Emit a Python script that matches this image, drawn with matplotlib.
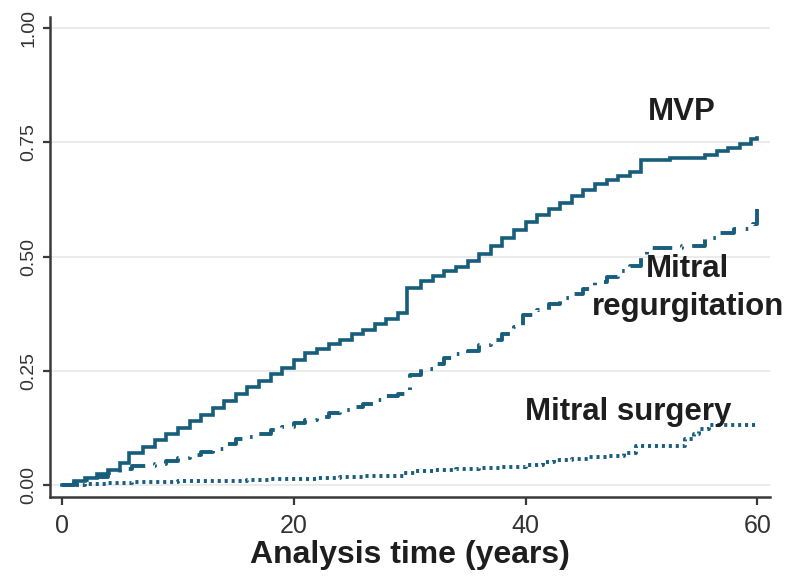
import matplotlib
matplotlib.use("Agg")
import matplotlib.pyplot as plt

# Cumulative incidence step curves (time in years, cumulative proportion)
mvp_time = [0, 1, 2, 3, 4, 5, 5.8, 7, 8, 9, 10, 11, 12, 13, 14, 15, 16, 17, 18,
            19, 20, 21, 22, 23, 24, 25, 26, 27, 28, 29, 29.8, 31, 32, 33, 34,
            35, 36, 37, 38, 39, 40, 41, 42, 43, 44, 45, 46, 47, 48, 49, 50,
            52.5, 55.5, 56.5, 57.5, 58.5, 59.5, 60]
mvp_value = [0.000, 0.008, 0.016, 0.025, 0.034, 0.048, 0.070, 0.084, 0.098,
             0.112, 0.126, 0.140, 0.154, 0.168, 0.184, 0.200, 0.214, 0.228,
             0.242, 0.256, 0.274, 0.288, 0.298, 0.308, 0.318, 0.330, 0.340,
             0.352, 0.364, 0.376, 0.432, 0.446, 0.458, 0.468, 0.478, 0.490,
             0.506, 0.522, 0.540, 0.558, 0.576, 0.590, 0.604, 0.618, 0.632,
             0.646, 0.658, 0.668, 0.676, 0.684, 0.712, 0.716, 0.722, 0.730,
             0.738, 0.746, 0.756, 0.760]

mr_time = [0, 1, 2, 3, 4, 5, 6, 8, 9, 10, 11, 12, 13, 14, 15, 16, 17, 18, 19,
           20, 21, 22, 23, 24, 25, 26, 27, 28, 29, 30, 31, 32, 33, 34, 35, 36,
           37, 38, 39, 39.8, 41, 42, 43, 44, 45, 46, 47, 48, 49, 50, 50.5,
           53.5, 55.5, 56.5, 58, 59.6, 60]
mr_value = [0.000, 0.006, 0.012, 0.018, 0.026, 0.036, 0.042, 0.046, 0.052,
            0.060, 0.066, 0.072, 0.080, 0.090, 0.100, 0.106, 0.112, 0.120,
            0.128, 0.136, 0.142, 0.150, 0.158, 0.164, 0.170, 0.178, 0.186,
            0.194, 0.200, 0.240, 0.254, 0.266, 0.278, 0.286, 0.294, 0.306,
            0.318, 0.330, 0.345, 0.372, 0.384, 0.396, 0.410, 0.418, 0.428,
            0.444, 0.456, 0.468, 0.480, 0.500, 0.518, 0.524, 0.540, 0.552,
            0.560, 0.572, 0.605]

surg_time = [0, 2, 4, 6, 8, 10, 12, 14, 16, 18, 20, 22, 24, 26, 28, 29.5,
             30.5, 32, 34, 36, 38, 40, 41.5, 42.5, 44, 45.5, 47, 48.5, 49.5,
             53.8, 54.5, 55, 55.8, 60]
surg_value = [0.000, 0.002, 0.004, 0.006, 0.007, 0.008, 0.009, 0.010, 0.011,
              0.013, 0.014, 0.016, 0.018, 0.019, 0.021, 0.026, 0.032, 0.034,
              0.036, 0.038, 0.040, 0.044, 0.050, 0.055, 0.058, 0.061, 0.064,
              0.070, 0.086, 0.100, 0.112, 0.122, 0.132, 0.132]

x_ticks = [0, 20, 40, 60]
y_ticks = [0.00, 0.25, 0.50, 0.75, 1.00]
y_tick_labels = ["0.00", "0.25", "0.50", "0.75", "1.00"]

plt.rcParams["font.family"] = ["Liberation Sans", "DejaVu Sans"]
plt.rcParams["lines.scale_dashes"] = False

line_color = "#175d7c"
text_color = "#1e1e1e"
axis_color = "#3a3a3a"

fig = plt.figure(figsize=(8, 5.77), dpi=100)
ax = fig.add_axes([0.0625, 0.1386, 0.9, 0.832])

ax.step(mvp_time, mvp_value, where="post", color=line_color, lw=2.6,
        solid_joinstyle="miter")
ax.step(mr_time, mr_value, where="post", color=line_color, lw=2.8,
        linestyle=(0, (14, 7, 1.8, 7)), dash_capstyle="butt")
ax.step(surg_time, surg_value, where="post", color=line_color, lw=2.8,
        linestyle=(0, (2.2, 2.8)), dash_capstyle="butt")

ax.set_xlim(-1.04, 61.1)
ax.set_ylim(-0.026, 1.024)

ax.set_xticks(x_ticks)
ax.set_yticks(y_ticks)
ax.set_yticklabels(y_tick_labels, rotation=90, va="center")
ax.tick_params(axis="x", labelsize=18, length=6, width=1.6, pad=6,
               color=axis_color, labelcolor="#333333")
ax.tick_params(axis="y", labelsize=14, length=5, width=1.6, pad=4,
               color=axis_color, labelcolor="#333333")

ax.grid(axis="y", color="#ebebeb", lw=1.4)
ax.set_axisbelow(True)
for side in ("top", "right"):
    ax.spines[side].set_visible(False)
for side in ("left", "bottom"):
    ax.spines[side].set_color(axis_color)
    ax.spines[side].set_linewidth(1.8)

ax.set_xlabel("Analysis time (years)", fontsize=23, fontweight="bold",
              color=text_color, labelpad=2)

label_kw = dict(fontsize=22.5, fontweight="bold", color=text_color,
                ha="center", va="baseline", clip_on=False)
ax.text(53.45, 0.799, "MVP", **label_kw)
ax.text(54.0, 0.455, "Mitral", **label_kw)
ax.text(54.0, 0.372, "regurgitation", **label_kw)
ax.text(48.9, 0.142, "Mitral surgery", **label_kw)

fig.savefig("out.png", dpi=100)
